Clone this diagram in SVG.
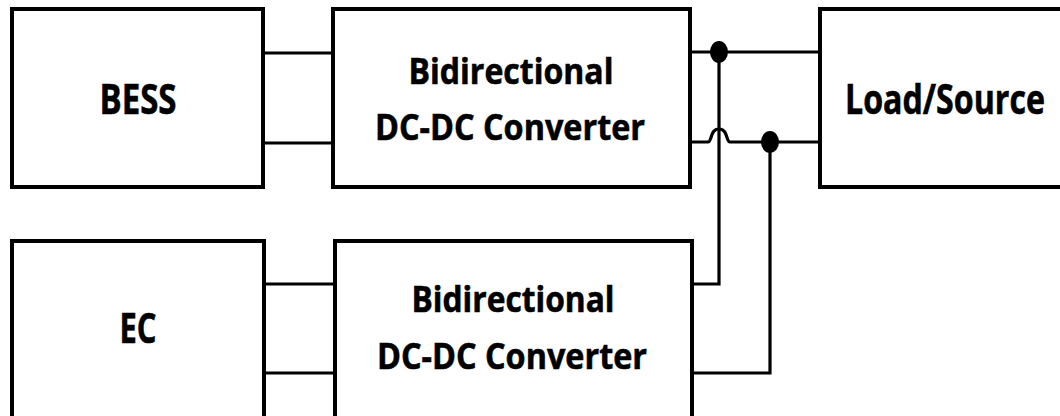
<svg xmlns="http://www.w3.org/2000/svg" width="1060" height="416" viewBox="0 0 1060 416">
  <style>
    .box { fill: #ffffff; stroke: #000000; stroke-width: 4; }
    .wire { fill: none; stroke: #000000; stroke-width: 3.2; stroke-linejoin: miter; }
    .dot { fill: #000000; }
    .big { font-family: "Open Sans", "Liberation Sans", sans-serif; font-weight: 700; font-size: 41px; fill: #000000; stroke: #000000; stroke-width: 0.6; }
    .conv { font-family: "Open Sans", "Liberation Sans", sans-serif; font-weight: 700; font-size: 36px; fill: #000000; stroke: #000000; stroke-width: 0.6; }
  </style>
  <rect width="1060" height="416" fill="#ffffff"/>

  <!-- wiring between blocks -->
  <g id="connectors">
    <path class="wire" d="M263 53 H333 M263 143 H333"/>
    <path class="wire" d="M264 284 H335 M264 373 H335"/>
    <path class="wire" d="M690 52 H820"/>
    <path class="wire" d="M690 142 H708 C712 142 710 129 719 129 C728 129 726 142 730 142 H820"/>
    <path class="wire" d="M692 284 H719 V52"/>
    <path class="wire" d="M692 373 H770 V142"/>
    <ellipse class="dot" cx="719" cy="52" rx="9" ry="11"/>
    <ellipse class="dot" cx="770" cy="142" rx="9" ry="11"/>
  </g>

  <g id="bess">
    <rect class="box" x="12" y="9" width="251" height="178"/>
    <text class="big" x="138" y="114" text-anchor="middle" textLength="77" lengthAdjust="spacingAndGlyphs">BESS</text>
  </g>

  <g id="converter-top">
    <rect class="box" x="333" y="9" width="357" height="178"/>
    <text class="conv" x="511" y="84" text-anchor="middle" textLength="205" lengthAdjust="spacingAndGlyphs">Bidirectional</text>
    <text class="conv" x="510" y="140" text-anchor="middle" textLength="270" lengthAdjust="spacingAndGlyphs">DC-DC Converter</text>
  </g>

  <g id="load-source">
    <rect class="box" x="820" y="9" width="260" height="178"/>
    <text class="big" x="945" y="114" text-anchor="middle" textLength="200" lengthAdjust="spacingAndGlyphs">Load/Source</text>
  </g>

  <g id="ec">
    <rect class="box" x="12" y="241" width="252" height="200"/>
    <text class="big" x="138" y="343" text-anchor="middle" textLength="37" lengthAdjust="spacingAndGlyphs">EC</text>
  </g>

  <g id="converter-bottom">
    <rect class="box" x="335" y="241" width="357" height="200"/>
    <text class="conv" x="513" y="312" text-anchor="middle" textLength="203" lengthAdjust="spacingAndGlyphs">Bidirectional</text>
    <text class="conv" x="512" y="369" text-anchor="middle" textLength="270" lengthAdjust="spacingAndGlyphs">DC-DC Converter</text>
  </g>
</svg>
